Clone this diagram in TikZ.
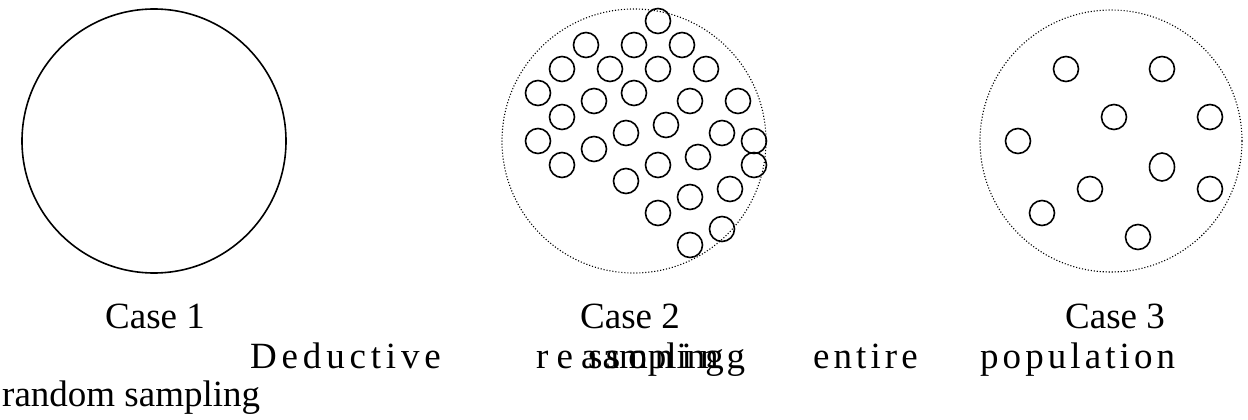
\documentclass[tikz,border=0pt]{standalone}
\usepackage{fontspec}
\setmainfont{Liberation Serif}
\begin{document}
\begin{tikzpicture}[x=1pt,y=-1pt,
  outline/.style={line width=1.6pt},
  boundary/.style={line width=1.1pt, dash pattern=on 1.1pt off 1.9pt},
  dot/.style={line width=1.6pt},
  txt/.style={inner sep=0pt, font=\fontsize{37}{42}\selectfont},
  caption/.style={txt, anchor=base},
  word/.style={txt, anchor=base west},
  track/.style={word, font=\fontsize{37}{42}\selectfont\addfontfeatures{LetterSpace=#1}}]
\useasboundingbox (0,0) rectangle (1248,420);

% Case 1: the whole population
\draw[outline] (154,141) circle (132);

% Case 2: a clustered sample
\draw[boundary] (634,141) circle (132);
\foreach \x/\y in {658/21,
  586/45, 634/45, 682/45,
  562/69, 610/69, 658/69, 706/69,
  538/93, 634/93,
  594/101, 690/101, 738/101,
  562/117, 666/125, 626/133, 722/133,
  538/141, 754/141, 594/149, 698/157,
  562/165, 658/165, 754/165,
  626/181, 730/189, 690/197, 658/213, 722/229, 690/245}
  \draw[dot] (\x,\y) circle (12.5);

% Case 3: a random sample
\draw[boundary] (1111,141) circle (131);
\foreach \x/\y in {1066/69, 1162/69, 1114/117, 1210/117, 1018/141,
  1090/189, 1210/189, 1042/213, 1138/237}
  \draw[dot] (\x,\y) circle (12.5);
\draw[dot] (1162,167) ellipse (12.5 and 14);

% captions
\node[caption] (c1) at (155,328) {Case 1};
\node[caption] (c2) at (630,328) {Case 2};
\node[caption] (c3) at (1115,328) {Case 3};

\node[track=13] (ded) at (250,368) {Deductive};
\node[track=22] (rea) at (536,368) {reasoning};
\node[word] (sam) at (588,368) {sampling};
\node[track=11] (ent) at (813,368) {entire};
\node[track=11] (pop) at (980,368) {population};
\node[word] (rnd) at (2,406) {random sampling};
\end{tikzpicture}
\end{document}
